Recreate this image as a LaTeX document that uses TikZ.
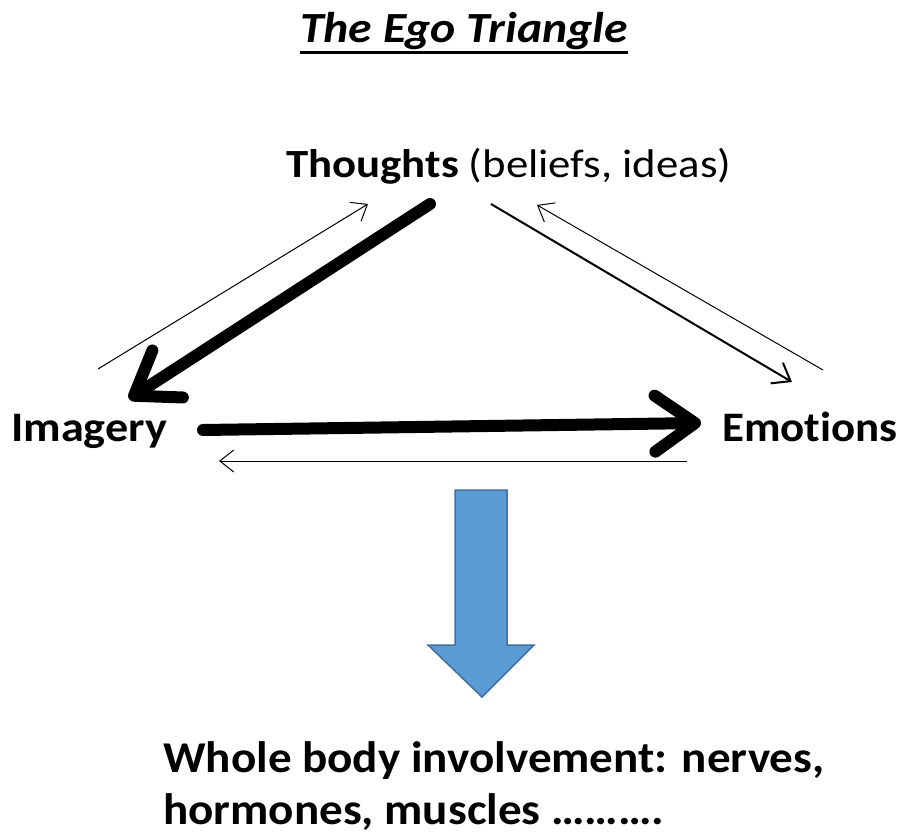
\documentclass[tikz,border=0pt]{standalone}
\usepackage{fontspec}
\usepackage{graphicx}
\setmainfont[Ligatures={NoCommon}]{Carlito}
\usetikzlibrary{arrows.meta}
\definecolor{blfill}{HTML}{5B9BD5}
\definecolor{bldraw}{HTML}{41719C}
\tikzset{
  lbl/.style={inner sep=0pt, anchor=base west},
  thin arr/.style={line width=1pt, -{Straight Barb[length=14pt,width=22pt]}},
  mid arr/.style={line width=2pt, -{Straight Barb[length=16pt,width=24pt]}},
  thick arr/.style={line width=12pt, line cap=round, -{Straight Barb[length=40pt,width=56pt,round]}},
}
\begin{document}
\begin{tikzpicture}[x=1pt,y=-1pt]
\useasboundingbox (0,0) rectangle (911,834);
\fill[white] (0,0) rectangle (911,834);
% title
\node[lbl] (title) at (300,43) {\fontsize{43}{50}\selectfont\scalebox{1.11}[1]{\bfseries\itshape The Ego Triangle}};
\draw[line width=3pt] (title.south west |- 0,53) -- (title.south east |- 0,53);
% labels
\node[lbl] (thoughts) at (286,178) {\fontsize{40}{48}\selectfont\scalebox{1.12}[1]{\textbf{Thoughts} (beliefs, ideas)}};
\node[lbl] (imagery) at (11,442) {\fontsize{42}{50}\selectfont\scalebox{1.1}[1]{\bfseries Imagery}};
\node[lbl] (emotions) at (722,442) {\fontsize{42}{50}\selectfont\scalebox{1.07}[1]{\bfseries Emotions}};
\node[lbl] (whole1) at (163,772) {\fontsize{44}{54}\selectfont\scalebox{1.07}[1]{\bfseries Whole body involvement: nerves,}};
\node[lbl] (whole2) at (163,824) {\fontsize{44}{54}\selectfont\scalebox{1.07}[1]{\bfseries hormones, muscles \dots\dots\dots.}};
% arrow coordinates
\coordinate (a1s) at (430,204);
\coordinate (a1e) at (129,399);
\coordinate (a2s) at (98,369);
\coordinate (a2e) at (368,204);
\coordinate (a3s) at (491,204);
\coordinate (a3e) at (792,382);
\coordinate (a4s) at (823,370);
\coordinate (a4e) at (537,205);
\coordinate (a5s) at (203,430);
\coordinate (a5e) at (701,423);
\coordinate (a6s) at (687,461);
\coordinate (a6e) at (219,461);
\draw[thick arr] (a1s) -- (a1e);
\draw[thin arr] (a2s) -- (a2e);
\draw[mid arr] (a3s) -- (a3e);
\draw[thin arr] (a4s) -- (a4e);
\draw[thick arr] (a5s) -- (a5e);
\draw[thin arr] (a6s) -- (a6e);
% blue arrow
\draw[fill=blfill, draw=bldraw, line width=1.5pt, line join=miter]
  (455,490) -- (507,490) -- (507,645) -- (534,645) -- (482,697) -- (428,645) -- (455,645) -- cycle;
\end{tikzpicture}
\end{document}
